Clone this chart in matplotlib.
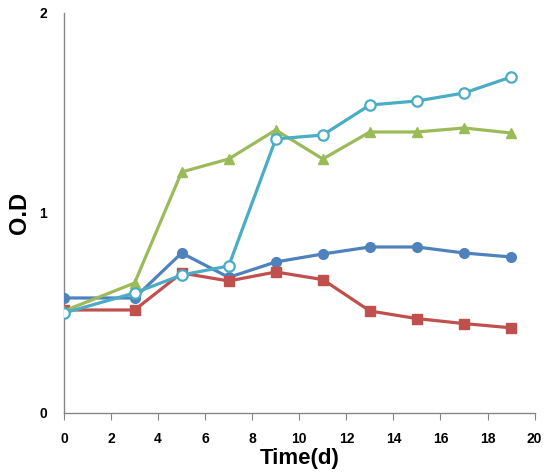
import matplotlib
matplotlib.use("Agg")
import matplotlib.pyplot as plt

days = [0, 3, 5, 7, 9, 11, 13, 15, 17, 19]
blue = [0.575, 0.575, 0.80, 0.678, 0.755, 0.795, 0.83, 0.83, 0.80, 0.78]
red = [0.515, 0.515, 0.70, 0.66, 0.705, 0.667, 0.51, 0.472, 0.447, 0.426]
green = [0.51, 0.65, 1.205, 1.27, 1.415, 1.27, 1.405, 1.405, 1.425, 1.40]
cyan = [0.50, 0.60, 0.69, 0.735, 1.37, 1.39, 1.54, 1.56, 1.60, 1.68]
xticks = [0, 2, 4, 6, 8, 10, 12, 14, 16, 18, 20]
yticks = [0, 1, 2]

plt.rcParams['font.family'] = ['Liberation Sans', 'DejaVu Sans']

fig = plt.figure(figsize=(5.54, 4.76), dpi=100)
ax = fig.add_axes([0.1155, 0.1324, 0.8495, 0.8403])

lw = 2.3
ax.plot(days, blue, color='#4F81BD', lw=lw, marker='o', ms=7, zorder=3)
ax.plot(days, red, color='#C0504D', lw=lw, marker='s', ms=7, zorder=3)
ax.plot(days, green, color='#9BBB59', lw=lw, marker='^', ms=7.5, zorder=3)
ax.plot(days, cyan, color='#4BACC6', lw=lw, marker='o', ms=7.5, mfc='white',
        mew=1.6, zorder=4)

ax.set_xlim(0, 20)
ax.set_ylim(0, 2)
ax.set_xticks(xticks)
ax.set_yticks(yticks)
ax.set_xticklabels([str(t) for t in xticks], fontsize=10, fontweight='bold')
ax.set_yticklabels([str(t) for t in yticks], fontsize=10, fontweight='bold')
ax.tick_params(axis='x', direction='out', length=5, color='#868686', pad=9)
ax.tick_params(axis='y', length=0, pad=12)

for s in ['top', 'right']:
    ax.spines[s].set_visible(False)
for s in ['left', 'bottom']:
    ax.spines[s].set_color('#868686')
    ax.spines[s].set_linewidth(1.0)

ax.set_xlabel('Time(d)', fontsize=16, fontweight='bold')
ax.xaxis.set_label_coords(0.5, -0.088)
ax.set_ylabel('O.D', fontsize=17, fontweight='bold')
ax.yaxis.set_label_coords(-0.07, 0.5)

fig.savefig('out.png', dpi=100)
